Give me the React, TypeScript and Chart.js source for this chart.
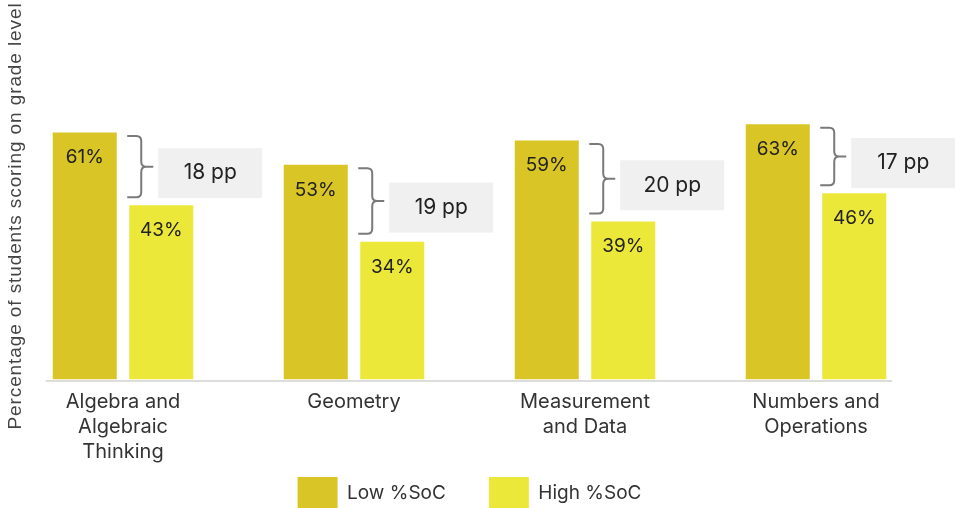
import React, { useEffect, useRef } from "react";
import { Chart, registerables } from "chart.js";

Chart.register(...registerables);

const categories: string[][] = [
  ["Algebra and", "Algebraic", "Thinking"],
  ["Geometry"],
  ["Measurement", "and Data"],
  ["Numbers and", "Operations"],
];
const lowSoC: number[] = [61, 53, 59, 63];
const highSoC: number[] = [43, 34, 39, 46];
const seriesNames: string[] = ["Low %SoC", "High %SoC"];
const yAxisTitle = "Percentage of students scoring on grade level";

const LOW_COLOR = "#d9c526";
const HIGH_COLOR = "#ece83a";
const FONT = "Inter";

const annotatePlugin = {
  id: "annotate",
  afterLayout(chart: any) {
    // place the legend a fixed distance below the plot's baseline
    const lg = chart.legend;
    if (!lg) return;
    const target = chart.chartArea.bottom + 54.5;
    const shift = lg.top - target;
    lg.top -= shift;
    lg.bottom -= shift;
  },
  afterDatasetsDraw(chart: any) {
    const ctx: CanvasRenderingContext2D = chart.ctx;
    const m0 = chart.getDatasetMeta(0);
    const m1 = chart.getDatasetMeta(1);
    const yScale = chart.scales.y;
    const yb = yScale.getPixelForValue(0);

    ctx.save();
    // baseline
    const first = m0.data[0];
    const last = m1.data[m1.data.length - 1];
    ctx.strokeStyle = "#dddddd";
    ctx.lineWidth = 2;
    ctx.beginPath();
    ctx.moveTo(first.x - first.width / 2 - 7, yb + 1.5);
    ctx.lineTo(last.x + last.width / 2 + 6, yb + 1.5);
    ctx.stroke();

    // value labels
    ctx.fillStyle = "#222222";
    ctx.font = `19px ${FONT}`;
    ctx.textAlign = "center";
    ctx.textBaseline = "middle";
    [m0, m1].forEach((meta: any, di: number) => {
      const vals = di === 0 ? lowSoC : highSoC;
      meta.data.forEach((bar: any, i: number) => {
        ctx.fillText(`${vals[i]}%`, bar.x, bar.y + 25);
      });
    });

    // brackets and gap boxes
    for (let i = 0; i < categories.length; i++) {
      const low = m0.data[i];
      const high = m1.data[i];
      const hl = high.x - high.width / 2;
      const yT = low.y + 3.5;
      const yB = high.y - 8;
      const ym = (yT + yB) / 2;
      const x0 = hl - 2;
      const xv = hl + 12;
      const xt = hl + 24;
      const r = 5;
      ctx.strokeStyle = "#7a7a7a";
      ctx.lineWidth = 2;
      ctx.beginPath();
      ctx.moveTo(x0, yT);
      ctx.lineTo(xv - r, yT);
      ctx.quadraticCurveTo(xv, yT, xv, yT + r);
      ctx.lineTo(xv, ym - r);
      ctx.quadraticCurveTo(xv, ym, xv + r, ym);
      ctx.lineTo(xt, ym);
      ctx.moveTo(xv + r, ym);
      ctx.quadraticCurveTo(xv, ym, xv, ym + r);
      ctx.lineTo(xv, yB - r);
      ctx.quadraticCurveTo(xv, yB, xv - r, yB);
      ctx.lineTo(x0, yB);
      ctx.stroke();

      const bw = 104;
      const bh = 50;
      const bx = hl + 29;
      const cy = ym + 6.5;
      ctx.fillStyle = "#f0f0f0";
      ctx.fillRect(bx, cy - bh / 2, bw, bh);
      ctx.fillStyle = "#222222";
      ctx.font = `21px ${FONT}`;
      ctx.textAlign = "center";
      ctx.textBaseline = "middle";
      ctx.fillText(`${lowSoC[i] - highSoC[i]} pp`, bx + bw / 2, cy);
    }

    // y-axis title
    ctx.save();
    ctx.translate(16, 216);
    ctx.rotate(-Math.PI / 2);
    ctx.fillStyle = "#444444";
    ctx.font = `19px "Liberation Sans"`;
    (ctx as any).letterSpacing = "0.9px";
    ctx.textAlign = "center";
    ctx.textBaseline = "middle";
    ctx.fillText(yAxisTitle, 0, 0);
    ctx.restore();

    ctx.restore();
  },
};

export default function App() {
  const canvasRef = useRef<HTMLCanvasElement | null>(null);

  useEffect(() => {
    if (!canvasRef.current) return;
    const chart = new Chart(canvasRef.current, {
      type: "bar",
      data: {
        labels: categories,
        datasets: [
          {
            label: seriesNames[0],
            data: lowSoC,
            backgroundColor: LOW_COLOR,
            borderWidth: 0,
            categoryPercentage: 0.6623,
            barPercentage: 0.837,
          },
          {
            label: seriesNames[1],
            data: highSoC,
            backgroundColor: HIGH_COLOR,
            borderWidth: 0,
            categoryPercentage: 0.6623,
            barPercentage: 0.837,
          },
        ],
      },
      options: {
        animation: false,
        responsive: false,
        devicePixelRatio: 1,
        layout: { padding: { left: 7.5, right: 23.5, top: 15, bottom: 0.5 } },
        scales: {
          x: {
            grid: { display: false, drawTicks: false },
            border: { display: false },
            ticks: {
              color: "#333333",
              padding: 10,
              maxRotation: 0,
              autoSkip: false,
              font: { family: FONT, size: 20, lineHeight: 1.25 },
            },
          },
          y: {
            display: false,
            min: 0,
            max: 90,
          },
        },
        plugins: {
          legend: {
            position: "bottom",
            labels: {
              boxWidth: 40,
              boxHeight: 32,
              padding: 43,
              color: "#333333",
              font: { family: FONT, size: 19 },
            },
          },
          tooltip: { enabled: false },
        },
      },
      plugins: [annotatePlugin],
    });
    return () => chart.destroy();
  }, []);

  return (
    <div
      style={{
        position: "fixed",
        left: 0,
        top: 0,
        width: 955,
        height: 508,
        overflow: "hidden",
        background: "#ffffff",
      }}
    >
      <canvas ref={canvasRef} width={955} height={560} style={{ display: "block" }} />
    </div>
  );
}
